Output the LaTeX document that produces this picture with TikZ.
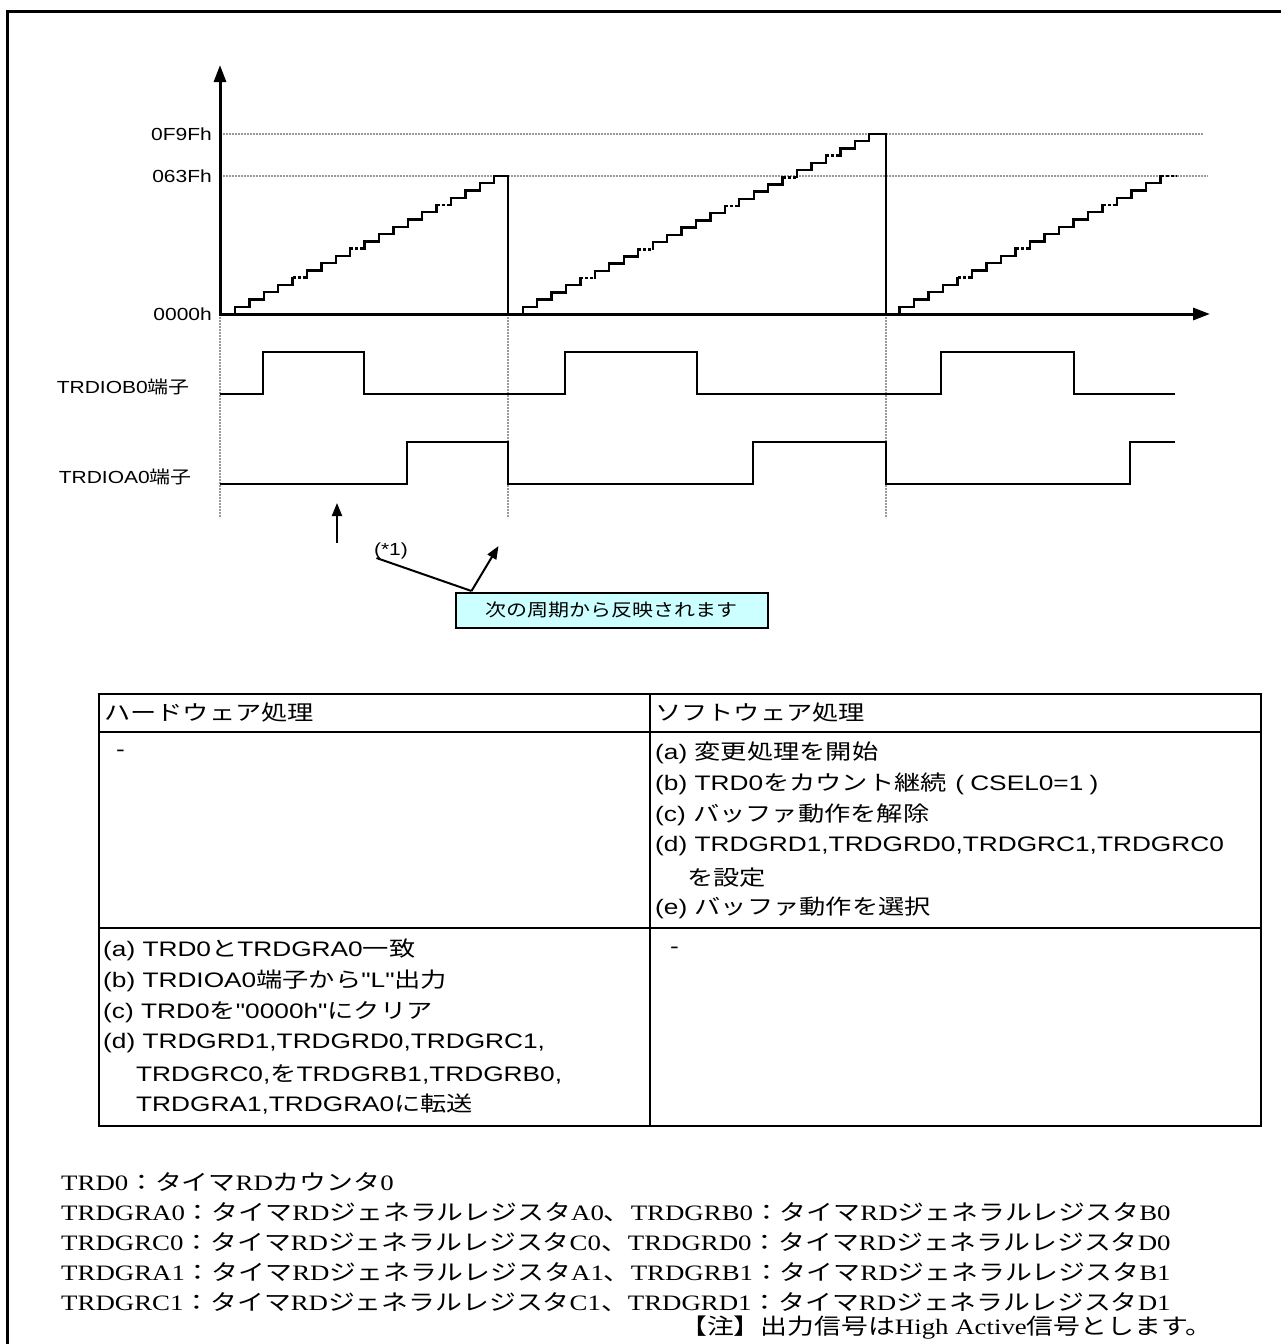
\documentclass[tikz,border=0pt]{standalone}
\usepackage{fontspec}
\usetikzlibrary{arrows.meta}
\newfontfamily\sansA[FakeStretch=1.2]{Liberation Sans}
\newfontfamily\jpA[FakeStretch=1.2]{Noto Sans CJK JP}
\newfontfamily\sansB[FakeStretch=1.25]{Liberation Sans}
\newfontfamily\jpB[FakeStretch=1.25]{Noto Sans CJK JP}
\newfontfamily\serifC[FakeStretch=1.22]{Liberation Serif}
\newfontfamily\jpC[FakeStretch=1.22]{Noto Sans CJK JP}
% automatic switching between Latin and Japanese fonts
\newXeTeXintercharclass\jcls
\newcount\jcnt
\def\setjrange#1#2{\jcnt=#1\relax\loop\XeTeXcharclass\jcnt=\jcls\relax\ifnum\jcnt<#2\relax\advance\jcnt by 1\relax\repeat}
\setjrange{"3000}{"30FF}
\setjrange{"4E00}{"9FFF}
\setjrange{"FF00}{"FFEF}
\def\curlatin{\sansA}\def\curjp{\jpA}
\XeTeXinterchartoks 0 \jcls = {\curjp}
\XeTeXinterchartoks 4095 \jcls = {\curjp}
\XeTeXinterchartoks \jcls 0 = {\curlatin}
\XeTeXinterchartoks \jcls 4095 = {\curlatin}
\XeTeXinterchartokenstate=1
\newcommand\fA{\fontsize{17.5}{21}\selectfont\let\curlatin\sansA\let\curjp\jpA\sansA}
\newcommand\fB{\fontsize{21}{30}\selectfont\let\curlatin\sansB\let\curjp\jpB\sansB}
\newcommand\fC{\fontsize{22}{30}\selectfont\let\curlatin\serifC\let\curjp\jpC\serifC}
\definecolor{callfill}{HTML}{CCFFFF}
\definecolor{dotgray}{HTML}{9A9A9A}
\tikzset{
  stair/.style={line width=2.3pt, line cap=rect},
  stairdot/.style={line width=2.6pt, dash pattern=on 3pt off 2pt},
  guide/.style={dotgray, line width=1.6pt, dash pattern=on 1.6pt off 1.4pt},
  sig/.style={line width=2pt, line join=miter},
  lbl/.style={font=\fA, inner sep=0pt},
  tbl/.style={font=\fB, inner sep=0pt, anchor=west},
  note/.style={font=\fC, inner sep=0pt, anchor=west},
  tline/.style={line width=2pt},
  bigtip/.tip={Triangle[length=17pt,width=12pt]},
  smalltip/.tip={Triangle[length=13pt,width=10pt]},
  callbox/.style={draw, line width=1.8pt, fill=callfill, font=\fA, inner sep=0pt,
    minimum width=312pt, minimum height=35pt, anchor=north west}
}
\makeatletter
\newcommand\drawstairs[7]{% #1 x0, #2 w, #3 top y, #4 last index, #5 x end, #6 dotted list, #7 steps
  \pgfmathsetmacro\sh{(314-#3)/#7}
  \foreach \i in {0,...,#4}{
    \pgfmathsetmacro\xa{#1+\i*#2}
    \pgfmathsetmacro\ya{314-\i*\sh}
    \pgfmathsetmacro\yb{314-(\i+1)*\sh}
    \pgfmathsetmacro\xb{ifthenelse(\i==#4,#5,#1+(\i+1)*#2)}
    \draw[stair] (\xa,\ya) -- (\xa,\yb);
    \edef\tmp{\noexpand\in@{,\i,}{,#6,}}\tmp
    \ifin@ \draw[stairdot] (\xa,\yb) -- (\xb,\yb); \else \draw[stair] (\xa,\yb) -- (\xb,\yb); \fi
  }}
\makeatother
\begin{document}
\begin{tikzpicture}[x=1pt, y=-1pt]
\useasboundingbox (0,0) rectangle (1281,1344);
% frame
\draw[line width=3pt] (7,1344) -- (7,11) -- (1281,11);
% guides
\draw[guide] (220,134) -- (1203,134);
\draw[guide] (220,176) -- (1208,176);
\foreach \gx in {220,508,886} \draw[guide] (\gx,314) -- (\gx,518);
% staircases
\drawstairs{235}{14.4}{176}{18}{508}{4,8,14}{19}
\draw[stair] (508,176) -- (508,314);
\drawstairs{522.7}{14.44}{134}{24}{886}{4,8,14,18,21}{25}
\draw[stair] (886,134) -- (886,314);
\drawstairs{899.5}{14.5}{176}{18}{1176}{4,8,14,18}{19}
% axes
\draw[line width=3pt, {bigtip}-{bigtip}] (220,65) -- (220,314) -- (1210,314);
% axis labels
\node[lbl, anchor=east] (l0f9f) at (212,134) {0F9Fh};
\node[lbl, anchor=east] (l063f) at (212,176) {063Fh};
\node[lbl, anchor=east] (l0000) at (212,314) {0000h};
% signals
\node[lbl, anchor=east] (lb0) at (190,387) {TRDIOB0端子};
\node[lbl, anchor=east] (la0) at (192,477) {TRDIOA0端子};
\draw[sig] (220,394) -- (263,394) -- (263,352) -- (364,352) -- (364,394) -- (565,394) -- (565,352)
  -- (697,352) -- (697,394) -- (941,394) -- (941,352) -- (1074,352) -- (1074,394) -- (1175,394);
\draw[sig] (220,484) -- (407,484) -- (407,442) -- (508,442) -- (508,484) -- (753,484) -- (753,442)
  -- (886,442) -- (886,484) -- (1130,484) -- (1130,442) -- (1175,442);
% change point arrow
\coordinate (upb) at (337,543);
\coordinate (upt) at (337,503);
\draw[line width=2pt, -{smalltip}] (upb) -- (upt);
% callout
\node[lbl] (star) at (391,551) {(*1)};
\node[callbox] (cb) at (455,592) {次の周期から反映されます};
\coordinate (ck) at (471.5,591);
\coordinate (cs) at (376.5,558);
\coordinate (ct) at (498.5,546);
\draw[line width=2pt] (cs) -- (ck);
\draw[line width=2pt, -{smalltip}] (ck) -- (ct);
% table
\draw[tline] (99,694) rectangle (1261,1126);
\draw[tline] (99,732) -- (1261,732);
\draw[tline] (99,928) -- (1261,928);
\draw[tline] (650,694) -- (650,1126);
\node[tbl] (h1) at (104,713) {ハードウェア処理};
\node[tbl] (h2) at (655,713) {ソフトウェア処理};
\node[tbl] (r1l) at (116,753) {-};
\node[tbl] (s1) at (655,753) {(a) 変更処理を開始};
\node[tbl] (s2) at (655,784) {(b) TRD0をカウント継続\hspace{0.4em}(\hspace{0.3em}CSEL0=1\hspace{0.3em})};
\node[tbl] (s3) at (655,815) {(c) バッファ動作を解除};
\node[tbl] (s4) at (655,846) {(d) TRDGRD1,TRDGRD0,TRDGRC1,TRDGRC0};
\node[tbl] (s5) at (687,878) {を設定};
\node[tbl] (s6) at (655,908) {(e) バッファ動作を選択};
\node[tbl] (h1a) at (103,950) {(a) TRD0とTRDGRA0一致};
\node[tbl] (h1b) at (103,981) {(b) TRDIOA0端子から"L"出力};
\node[tbl] (h1c) at (103,1012) {(c) TRD0を"0000h"にクリア};
\node[tbl] (h1d) at (103,1043) {(d) TRDGRD1,TRDGRD0,TRDGRC1,};
\node[tbl] (h1e) at (136,1074) {TRDGRC0,をTRDGRB1,TRDGRB0,};
\node[tbl] (h1f) at (136,1104) {TRDGRA1,TRDGRA0に転送};
\node[tbl] (r2r) at (670,950) {-};
% notes
\node[note] (n1) at (61,1182) {TRD0：タイマRDカウンタ0};
\node[note] (n2) at (61,1212) {TRDGRA0：タイマRDジェネラルレジスタA0、TRDGRB0：タイマRDジェネラルレジスタB0};
\node[note] (n3) at (61,1242) {TRDGRC0：タイマRDジェネラルレジスタC0、TRDGRD0：タイマRDジェネラルレジスタD0};
\node[note] (n4) at (61,1272) {TRDGRA1：タイマRDジェネラルレジスタA1、TRDGRB1：タイマRDジェネラルレジスタB1};
\node[note] (n5) at (61,1302) {TRDGRC1：タイマRDジェネラルレジスタC1、TRDGRD1：タイマRDジェネラルレジスタD1};
\node[note] (n6) at (680,1328) {【注】出力信号はHigh Active信号とします。};
\end{tikzpicture}
\end{document}
